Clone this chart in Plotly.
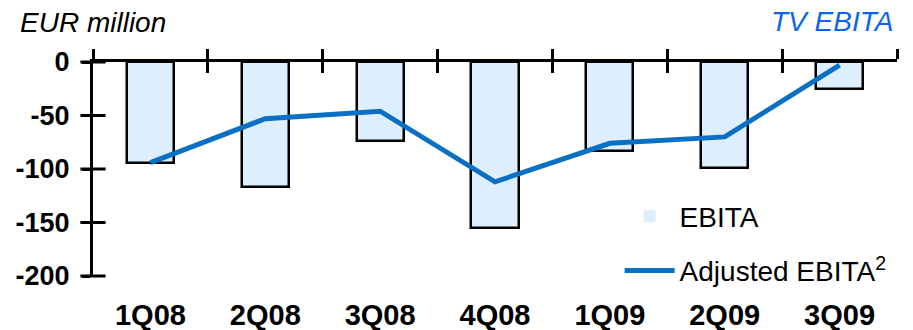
"""TV EBITA by quarter: reported EBITA bars with adjusted EBITA line."""

import plotly.graph_objects as go

quarters = ["1Q08", "2Q08", "3Q08", "4Q08", "1Q09", "2Q09", "3Q09"]
ebita = [-94, -117, -74, -155, -83, -99, -25]
adjusted_ebita = [-94, -53, -46, -112, -76, -70, -3]
y_ticks = [0, -50, -100, -150, -200]
y_ticklabels = ["0", "-50", "-100", "-150", "-200"]

BAR_FILL = "#DDEEFC"
LINE_BLUE = "#0A70C4"
TITLE_BLUE = "#0A64F0"
FONT = "Arial, Liberation Sans, sans-serif"

positions = list(range(len(quarters)))
boundaries = [p - 0.5 for p in positions] + [positions[-1] + 0.5]
x_range = [boundaries[0], boundaries[-1]]
y_range = [min(y_ticks), max(y_ticks)]

fig = go.Figure()

fig.add_trace(
    go.Bar(
        x=positions,
        y=ebita,
        width=0.41,
        marker=dict(color=BAR_FILL, line=dict(color="black", width=2.5)),
        showlegend=False,
        legendgroup="ebita",
        cliponaxis=False,
    )
)
# legend entry without the black outline
fig.add_trace(
    go.Bar(
        x=[None],
        y=[None],
        name="EBITA",
        marker=dict(color=BAR_FILL, line=dict(width=0)),
        legendgroup="ebita",
    )
)
fig.add_trace(
    go.Scatter(
        x=positions,
        y=adjusted_ebita,
        mode="lines",
        name="Adjusted EBITA<sup>2</sup>",
        line=dict(color=LINE_BLUE, width=5),
        legendgroup="adjusted",
    )
)

# y ticks that cross the axis line (plotly ticks are one-sided)
fig.add_trace(
    go.Scatter(
        x=[x_range[0]] * len(y_ticks),
        y=y_ticks,
        mode="markers",
        marker=dict(symbol="line-ew", size=18, line=dict(color="black", width=3)),
        cliponaxis=False,
        showlegend=False,
        hoverinfo="skip",
    )
)

# empty traces so the overlay x axes (top line + crossing ticks) get drawn
for xa in ["x2", "x3"]:
    fig.add_trace(
        go.Scatter(
            x=[None], y=[None], xaxis=xa, yaxis="y",
            showlegend=False, hoverinfo="skip",
        )
    )

axis_common = dict(
    showgrid=False, zeroline=False, range=x_range, fixedrange=True, automargin=False
)

# the page body adds an 8px offset, so the figure is 8px smaller than the window
fig.update_layout(
    width=905,
    height=322,
    margin=dict(l=85, r=16, t=54, b=54),
    paper_bgcolor="white",
    plot_bgcolor="white",
    font=dict(family=FONT, size=28, color="black"),
    bargap=0,
    xaxis=dict(
        **axis_common,
        tickvals=positions,
        ticktext=quarters,
        ticks="",
        showline=False,
        tickfont=dict(size=29, weight="bold"),
        ticklabelstandoff=19,
    ),
    # category boundary ticks crossing the zero line, drawn as two overlays
    xaxis2=dict(
        **axis_common,
        overlaying="x",
        side="top",
        anchor="y",
        tickvals=boundaries,
        ticks="outside",
        ticklen=10,
        tickwidth=3,
        tickcolor="black",
        showline=True,
        linewidth=3,
        linecolor="black",
        showticklabels=False,
    ),
    xaxis3=dict(
        **axis_common,
        overlaying="x",
        side="top",
        anchor="y",
        tickvals=boundaries,
        ticks="inside",
        ticklen=11,
        tickwidth=3,
        tickcolor="black",
        showticklabels=False,
    ),
    yaxis=dict(
        range=y_range,
        showgrid=False,
        zeroline=False,
        fixedrange=True,
        automargin=False,
        tickvals=y_ticks,
        ticktext=y_ticklabels,
        ticks="outside",
        ticklen=8,
        tickwidth=3,
        tickcolor="black",
        showline=True,
        linewidth=3,
        linecolor="black",
        tickfont=dict(size=27, weight="bold"),
        ticklabelstandoff=7,
    ),
    legend=dict(
        x=0.655,
        xanchor="left",
        y=0.395,
        yanchor="top",
        bgcolor="rgba(0,0,0,0)",
        font=dict(size=28),
        itemwidth=50,
        traceorder="grouped",
        tracegroupgap=15,
    ),
    annotations=[
        dict(
            text="EUR million",
            xref="paper",
            yref="paper",
            x=-0.093,
            y=1.185,
            xanchor="left",
            yanchor="middle",
            showarrow=False,
            font=dict(size=28, style="italic", color="black"),
        ),
        dict(
            text="TV EBITA",
            xref="paper",
            yref="paper",
            x=0.998,
            y=1.19,
            xanchor="right",
            yanchor="middle",
            showarrow=False,
            font=dict(size=28, style="italic", color=TITLE_BLUE),
        ),
    ],
)

fig.write_html("out.html")
